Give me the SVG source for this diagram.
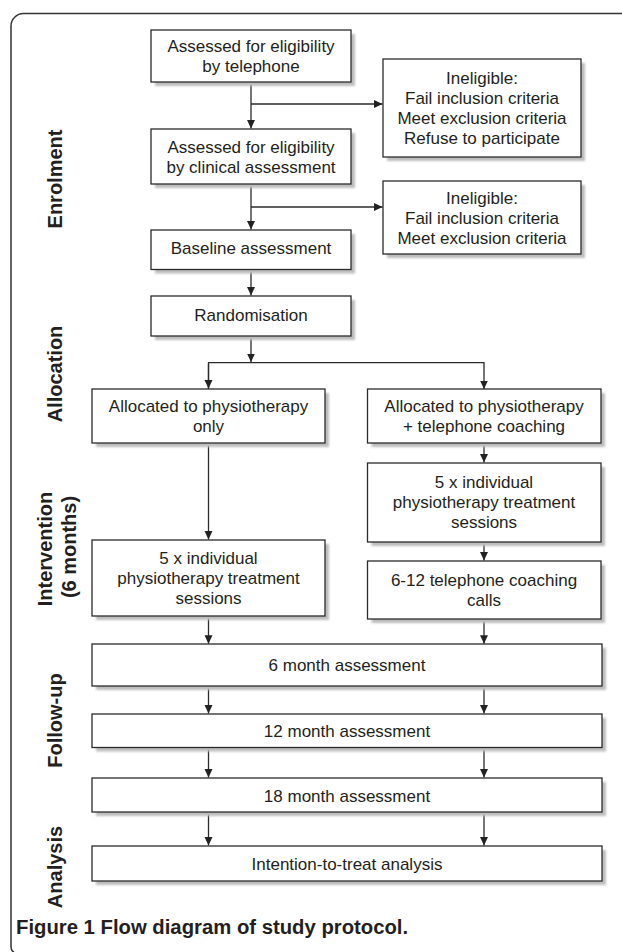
<svg xmlns="http://www.w3.org/2000/svg" width="622" height="952" viewBox="0 0 622 952">
<defs>
<style>
.box{fill:#fff;stroke:#2b2b2b;stroke-width:1.3}
.sh{fill:#bdbdbd;filter:url(#blur)}
.t{font-family:"Liberation Sans",Arial,sans-serif;font-size:17px;fill:#231f20;text-anchor:middle}
.lab{font-family:"Liberation Sans",Arial,sans-serif;font-size:20px;font-weight:bold;fill:#231f20;text-anchor:middle}
.c{stroke:#2b2b2b;stroke-width:1.3;fill:none}
.cap{font-family:"Liberation Sans",Arial,sans-serif;font-size:20.3px;font-weight:bold;fill:#231f20}
</style>
<filter id="blur" x="-5%" y="-20%" width="110%" height="140%"><feGaussianBlur stdDeviation="1.2"/></filter>
<marker id="ah" markerUnits="userSpaceOnUse" markerWidth="9" markerHeight="9" refX="8.5" refY="4" orient="auto" viewBox="0 0 9 8"><path d="M0,0 L8.5,4 L0,8 z" fill="#222"/></marker>
</defs>
<rect width="622" height="952" fill="#fff"/>
<path d="M14,952 Q11,951 11,946 L11,26 A12.5,12.5 0 0 1 23.5,13.5 L622,13.5" fill="none" stroke="#333" stroke-width="1.5"/>

<g id="labels">
<text class="lab" transform="translate(61.5,179) rotate(-90)">Enrolment</text>
<text class="lab" transform="translate(61.5,374) rotate(-90)">Allocation</text>
<text class="lab" transform="translate(52,549) rotate(-90)">Intervention</text>
<text class="lab" transform="translate(76,547) rotate(-90)">(6 months)</text>
<text class="lab" transform="translate(61.5,720.5) rotate(-90)">Follow-up</text>
<text class="lab" transform="translate(61.5,867) rotate(-90)">Analysis</text>
</g>

<g id="connectors">
<path class="c" d="M251,82 V128.5" marker-end="url(#ah)"/>
<path class="c" d="M251,104 H382.5" marker-end="url(#ah)"/>
<path class="c" d="M251,184 V229.5" marker-end="url(#ah)"/>
<path class="c" d="M251,207 H382.5" marker-end="url(#ah)"/>
<path class="c" d="M251,269.5 V295.5" marker-end="url(#ah)"/>
<path class="c" d="M251,336 V362" marker-end="url(#ah)"/>
<path class="c" d="M208.5,389 V362.7 H484 V389" stroke-width="2" marker-end="url(#ah)"/>
<path class="c" d="M208.5,364 V388.5" marker-end="url(#ah)"/>
<path class="c" d="M208.5,443 V539.5" marker-end="url(#ah)"/>
<path class="c" d="M484,443 V462.5" marker-end="url(#ah)"/>
<path class="c" d="M484,541.7 V560.5" marker-end="url(#ah)"/>
<path class="c" d="M208.5,615.7 V643.8" marker-end="url(#ah)"/>
<path class="c" d="M484,619 V643.8" marker-end="url(#ah)"/>
<path class="c" d="M208.5,686 V713.5" marker-end="url(#ah)"/>
<path class="c" d="M484,686 V713.5" marker-end="url(#ah)"/>
<path class="c" d="M208.5,747.5 V777.5" marker-end="url(#ah)"/>
<path class="c" d="M484,747.5 V777.5" marker-end="url(#ah)"/>
<path class="c" d="M208.5,812 V845.5" marker-end="url(#ah)"/>
<path class="c" d="M484,812 V845.5" marker-end="url(#ah)"/>
</g>

<g id="n1">
<rect class="sh" x="155" y="34" width="200" height="52"/>
<rect class="box" x="151" y="30" width="200" height="52"/>
<text class="t" x="251" y="52">Assessed for eligibility</text>
<text class="t" x="251" y="72">by telephone</text>
</g>
<g id="inel1">
<rect class="sh" x="387" y="63" width="198" height="98"/>
<rect class="box" x="383" y="59" width="198" height="98"/>
<text class="t" x="482" y="83.5">Ineligible:</text>
<text class="t" x="482" y="103.5">Fail inclusion criteria</text>
<text class="t" x="482" y="123.5">Meet exclusion criteria</text>
<text class="t" x="482" y="143.5">Refuse to participate</text>
</g>
<g id="n2">
<rect class="sh" x="155" y="133" width="200" height="55"/>
<rect class="box" x="151" y="129" width="200" height="55"/>
<text class="t" x="251" y="152.5">Assessed for eligibility</text>
<text class="t" x="251" y="172.5">by clinical assessment</text>
</g>
<g id="inel2">
<rect class="sh" x="387" y="185" width="198" height="73"/>
<rect class="box" x="383" y="181" width="198" height="73"/>
<text class="t" x="482" y="203.5">Ineligible:</text>
<text class="t" x="482" y="223.5">Fail inclusion criteria</text>
<text class="t" x="482" y="243.5">Meet exclusion criteria</text>
</g>
<g id="baseline">
<rect class="sh" x="155" y="234" width="200" height="39.5"/>
<rect class="box" x="151" y="230" width="200" height="39.5"/>
<text class="t" x="251" y="254">Baseline assessment</text>
</g>
<g id="random">
<rect class="sh" x="155" y="300" width="200" height="40"/>
<rect class="box" x="151" y="296" width="200" height="40"/>
<text class="t" x="251" y="320.5">Randomisation</text>
</g>
<g id="allocL">
<rect class="sh" x="96" y="393" width="233" height="54"/>
<rect class="box" x="92" y="389" width="233" height="54"/>
<text class="t" x="208.5" y="412">Allocated to physiotherapy</text>
<text class="t" x="208.5" y="432">only</text>
</g>
<g id="allocR">
<rect class="sh" x="371.5" y="393" width="233.5" height="54"/>
<rect class="box" x="367.5" y="389" width="233.5" height="54"/>
<text class="t" x="484" y="412">Allocated to physiotherapy</text>
<text class="t" x="484" y="432">+ telephone coaching</text>
</g>
<g id="physioR">
<rect class="sh" x="371.5" y="467" width="233.5" height="79"/>
<rect class="box" x="367.5" y="463" width="233.5" height="79"/>
<text class="t" x="484" y="487.5">5 x individual</text>
<text class="t" x="484" y="507.5">physiotherapy treatment</text>
<text class="t" x="484" y="527.5">sessions</text>
</g>
<g id="physioL">
<rect class="sh" x="96" y="544" width="233" height="76"/>
<rect class="box" x="92" y="540" width="233" height="76"/>
<text class="t" x="208.5" y="563.5">5 x individual</text>
<text class="t" x="208.5" y="583.5">physiotherapy treatment</text>
<text class="t" x="208.5" y="603.5">sessions</text>
</g>
<g id="coach">
<rect class="sh" x="371.5" y="565" width="233.5" height="58"/>
<rect class="box" x="367.5" y="561" width="233.5" height="58"/>
<text class="t" x="484" y="585.5">6-12 telephone coaching</text>
<text class="t" x="484" y="605.5">calls</text>
</g>
<g id="m6">
<rect class="sh" x="96" y="648" width="510" height="42"/>
<rect class="box" x="92" y="644" width="510" height="42"/>
<text class="t" x="347" y="670.5">6 month assessment</text>
</g>
<g id="m12">
<rect class="sh" x="96" y="718" width="510" height="33.5"/>
<rect class="box" x="92" y="714" width="510" height="33.5"/>
<text class="t" x="347" y="737">12 month assessment</text>
</g>
<g id="m18">
<rect class="sh" x="96" y="782" width="510" height="34"/>
<rect class="box" x="92" y="778" width="510" height="34"/>
<text class="t" x="347" y="801.5">18 month assessment</text>
</g>
<g id="itt">
<rect class="sh" x="96" y="850" width="510" height="35"/>
<rect class="box" x="92" y="846" width="510" height="35"/>
<text class="t" x="347" y="869.5">Intention-to-treat analysis</text>
</g>

<text class="cap" x="16" y="934">Figure 1 Flow diagram of study protocol.</text>
</svg>
